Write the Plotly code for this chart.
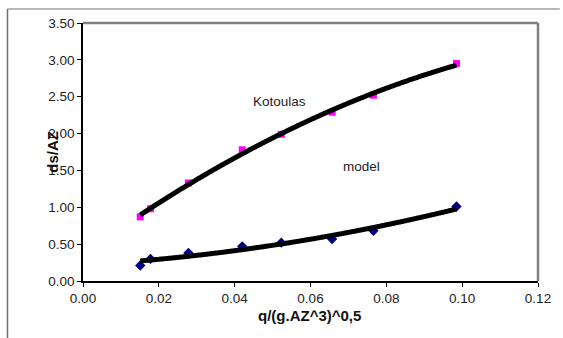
import numpy as np
import plotly.graph_objects as go

x_vals = [0.0151, 0.0178, 0.0278, 0.0420, 0.0523, 0.0657, 0.0766, 0.0985]
kotoulas = [0.87, 0.98, 1.33, 1.78, 1.99, 2.29, 2.52, 2.95]
model = [0.21, 0.30, 0.38, 0.47, 0.52, 0.57, 0.68, 1.01]
x_ticks = [0.00, 0.02, 0.04, 0.06, 0.08, 0.10, 0.12]
y_ticks = [0.00, 0.50, 1.00, 1.50, 2.00, 2.50, 3.00, 3.50]

W, H = 563, 338
L, R, T, B = 83, 541, 23, 281

xfit = np.linspace(min(x_vals), max(x_vals), 200)
k_fit = np.polyval(np.polyfit(x_vals, kotoulas, 2), xfit)
m_fit = np.polyval(np.polyfit(x_vals, model, 2), xfit)

fig = go.Figure()
fig.add_trace(go.Scatter(x=x_vals, y=kotoulas, mode="markers",
                         marker=dict(symbol="square", color="#ff00ff", size=7)))
fig.add_trace(go.Scatter(x=x_vals, y=model, mode="markers",
                         marker=dict(symbol="diamond", color="#000080", size=8)))
fig.add_trace(go.Scatter(x=xfit, y=k_fit, mode="lines", line=dict(color="black", width=5, shape="spline"), hoverinfo="skip"))
fig.add_trace(go.Scatter(x=xfit, y=m_fit, mode="lines", line=dict(color="black", width=5, shape="spline"), hoverinfo="skip"))

font = "Arial, Liberation Sans, sans-serif"
pw, ph = R - L, B - T

def px(xp):
    return (xp - L) / pw

def py(yp):
    return (B - yp) / ph

fig.update_layout(
    width=W, height=H,
    margin=dict(l=L, r=W - R, t=T, b=H - B),
    paper_bgcolor="white", plot_bgcolor="white",
    showlegend=False,
    font=dict(family=font, size=13.5, color="black"),
    xaxis=dict(range=[0, 0.12], tickvals=x_ticks, ticktext=[f"{v:.2f}" for v in x_ticks],
               showgrid=False, zeroline=False, showline=True, linecolor="black", linewidth=1.5,
               ticks="outside", ticklen=4, tickcolor="black", tickfont=dict(size=13.5, color="#222")),
    yaxis=dict(range=[0, 3.5], tickvals=y_ticks, ticktext=[f"{v:.2f}" for v in y_ticks],
               showgrid=False, zeroline=False, showline=True, linecolor="black", linewidth=1.5,
               ticks="outside", ticklen=4, tickcolor="black", tickfont=dict(size=13.5, color="#222")),
    shapes=[
        dict(type="line", xref="paper", yref="paper", x0=0, x1=1, y0=1, y1=1,
             line=dict(color="#808080", width=2.5)),
        dict(type="line", xref="paper", yref="paper", x0=1, x1=1, y0=0, y1=1,
             line=dict(color="#808080", width=2.5)),
        dict(type="line", xref="paper", yref="paper", x0=px(7), x1=px(563), y0=py(9), y1=py(9),
             line=dict(color="#707070", width=1)),
        dict(type="line", xref="paper", yref="paper", x0=px(7), x1=px(7), y0=py(9), y1=py(338),
             line=dict(color="#707070", width=1.5)),
    ],
    annotations=[
        dict(text="Kotoulas", x=0.0517, y=2.43, xref="x", yref="y", showarrow=False,
             font=dict(size=13.5, family=font, color="#222")),
        dict(text="model", x=0.0734, y=1.55, xref="x", yref="y", showarrow=False,
             font=dict(size=13.5, family=font, color="#222")),
        dict(text="<b>q/(g.AZ^3)^0,5</b>", x=px(311), y=py(326), xref="paper", yref="paper",
             showarrow=False, font=dict(size=15, family=font, color="#111")),
        dict(text="<b>ds/AZ</b>", x=px(41), y=py(152), xref="paper", yref="paper",
             showarrow=False, textangle=-90, font=dict(size=15, family=font, color="#111")),
    ],
)
fig.write_html("out.html", config={"displayModeBar": False},
               post_script="document.body.style.margin='0';document.body.style.padding='0';")
